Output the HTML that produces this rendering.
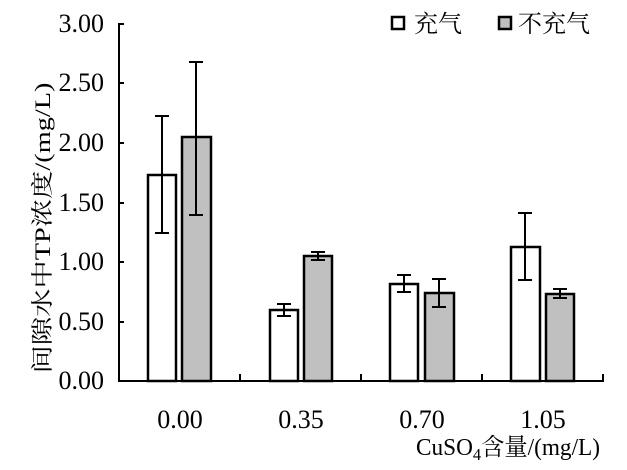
<!DOCTYPE html>
<html><head><meta charset="utf-8"><style>
body{margin:0;background:#fff}
svg text{font-family:"Liberation Serif","Noto Serif CJK SC",serif;fill:#000}
.t{font-size:26px}
</style></head><body>
<svg width="627" height="465" viewBox="0 0 627 465" xmlns="http://www.w3.org/2000/svg">
<g class="t" text-anchor="end">
<text x="104" y="32">3.00</text>
<text x="104" y="91">2.50</text>
<text x="104" y="151">2.00</text>
<text x="104" y="211">1.50</text>
<text x="104" y="270">1.00</text>
<text x="104" y="330">0.50</text>
<text x="104" y="389">0.00</text>
</g>
<g stroke="#000" stroke-width="2" fill="none">
<line x1="119" y1="23" x2="119" y2="382"/>
<line x1="118" y1="381" x2="604" y2="381"/>
<line x1="119" y1="24" x2="124" y2="24"/>
<line x1="119" y1="83" x2="124" y2="83"/>
<line x1="119" y1="143" x2="124" y2="143"/>
<line x1="119" y1="203" x2="124" y2="203"/>
<line x1="119" y1="262" x2="124" y2="262"/>
<line x1="119" y1="322" x2="124" y2="322"/>
<line x1="240" y1="381" x2="240" y2="374"/>
<line x1="361" y1="381" x2="361" y2="374"/>
<line x1="482" y1="381" x2="482" y2="374"/>
<line x1="603" y1="381" x2="603" y2="374"/>
</g>
<g stroke="#000" stroke-width="2.5">
<rect x="148" y="175" width="28" height="206" fill="#fff"/>
<rect x="182" y="137" width="29" height="244" fill="#c0c0c0"/>
<rect x="270" y="310" width="28" height="71" fill="#fff"/>
<rect x="304" y="256" width="28" height="125" fill="#c0c0c0"/>
<rect x="390" y="284" width="28" height="97" fill="#fff"/>
<rect x="425" y="293" width="29" height="88" fill="#c0c0c0"/>
<rect x="511" y="247" width="29" height="134" fill="#fff"/>
<rect x="546" y="294" width="28" height="87" fill="#c0c0c0"/>
</g>
<g stroke="#000" stroke-width="2">
<path d="M162 116V233M155 116H169M155 233H169"/>
<path d="M196 62V215M189 62H203M189 215H203"/>
<path d="M284 304V316M277 304H291M277 316H291"/>
<path d="M318 252V260M311 252H325M311 260H325"/>
<path d="M404 275V292M397 275H411M397 292H411"/>
<path d="M439 279V307M432 279H446M432 307H446"/>
<path d="M525 213V280M518 213H532M518 280H532"/>
<path d="M560 289V298M553 289H567M553 298H567"/>
</g>
<g class="t" text-anchor="middle">
<text x="180" y="428">0.00</text>
<text x="301" y="428">0.35</text>
<text x="422" y="428">0.70</text>
<text x="543" y="428">1.05</text>
</g>
<text x="416" y="455" style="font-size:24px" textLength="184" lengthAdjust="spacingAndGlyphs">CuSO<tspan style="font-size:17px" dy="5">4</tspan><tspan dy="-5">含量/(mg/L)</tspan></text>
<text transform="translate(50,228) rotate(-90)" style="font-size:22px" text-anchor="middle" textLength="291" lengthAdjust="spacingAndGlyphs">间隙水中TP浓度/(mg/L)</text>
<rect x="392" y="17" width="12" height="12" fill="#fff" stroke="#000" stroke-width="2.5"/>
<text x="414" y="32" style="font-size:24px">充气</text>
<rect x="499" y="17" width="12" height="12" fill="#c0c0c0" stroke="#000" stroke-width="2.5"/>
<text x="518" y="32" style="font-size:24px">不充气</text>
</svg>
</body></html>
